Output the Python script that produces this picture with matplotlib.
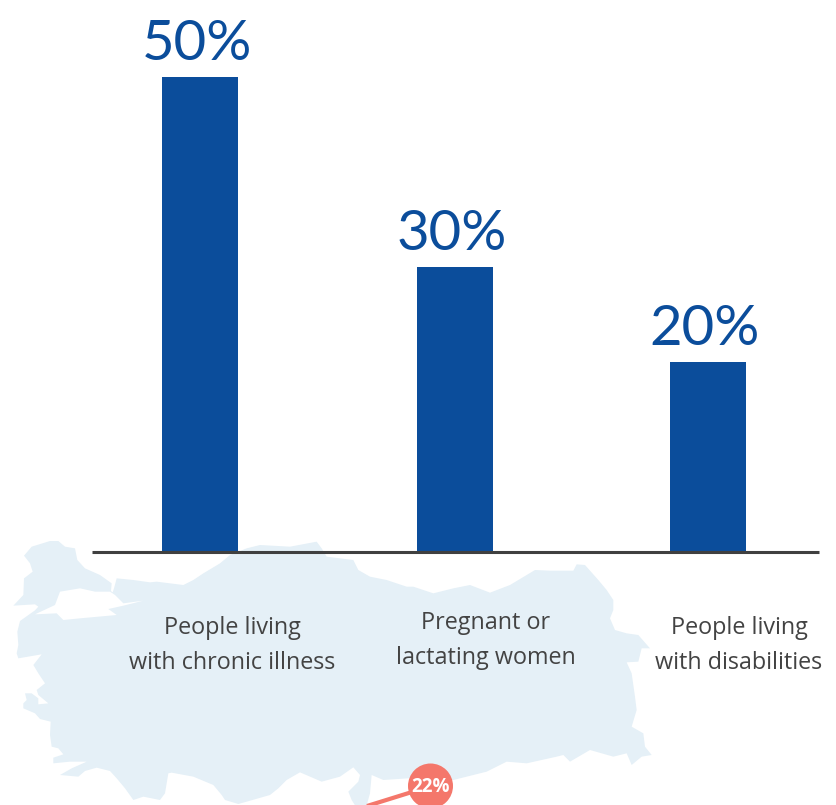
import matplotlib
matplotlib.use("Agg")
import matplotlib.pyplot as plt
from matplotlib.patches import Polygon, Circle

# ---- data ----
categories = ["People living\nwith chronic illness", "Pregnant or\nlactating women", "People living\nwith disabilities"]
values = [50, 30, 20]
value_labels = ["50%", "30%", "20%"]
bar_centres = [200, 455, 708]

# ---- decorative map outline, traced in zoomed crops of the image ----
thrace_crop = [(40,212),(70,180),(72,130),(98,110),(90,85),(72,62),(95,35),(150,18),(175,18),(195,35),(225,40),
               (232,75),(255,100),(300,120),(335,145),(333,168),(338,172),(342,160),(350,130),(400,135),(450,142)]
north_crop = [(470,155),(510,160),(550,165),(580,150),(610,130),(660,100),(690,75),(740,55),
              (780,45),(870,50),(950,35),(965,55),(980,80),(1060,90),(1075,120),(1110,140),(1160,150),(1220,170)]
east_crop = [(0,170),(40,170),(100,190),(160,175),(210,165),(270,188),(330,165),(405,120),(450,122),(520,122),
             (530,103),(555,105),(595,150),(620,180),(640,210),(640,240),(630,265),(645,300),(680,310),(715,315),
             (750,355),(725,355),(715,395),(680,397),(695,430),(705,500),(710,540),(695,590),(730,610),(735,650),
             (755,675),(725,680),(695,705),(680,670),(640,680),(570,660),(510,695),(490,675),(470,680),(380,700),
             (320,695),(260,725),(160,750),(60,745)]
south_crop = [(775,145),(700,150),(665,135),(660,190),(650,226),(615,226),(605,210),(595,185),(625,155),(630,135),
              (610,112),(570,140),(515,155),(450,127),(410,150),(385,175),(360,195),(290,215),(265,222),(225,210),
              (215,195),(190,165),(130,140),(65,128),(55,130),(45,190),(30,210)]
west_crop = [(400,455),(370,465),(345,430),(320,400),(300,378),(260,368),(225,378),(205,395),(150,390),(185,370),
             (230,350),(180,350),(130,355),(130,338),(160,328),(145,310),(125,305),(120,270),(122,230),(90,222),
             (75,205),(40,190),(40,175),(50,165),(45,145),(65,145),(85,160),(85,178),(115,175),(85,150),(80,135),
             (105,115),(85,85),(70,60),(95,28),(25,40),(20,25)]
strait_crop = [(55,330),(52,290),(60,258),(105,226),(115,215),(105,208)]
marmara_crop = [(105,238),(165,210),(180,170),(240,160),(285,170),(330,170),(345,180),(370,205),(430,197),
                (370,212),(325,222),(350,240),(240,250),(190,255),(170,235)]

def crop(points, x0, y0):
    return [(x0 + x / 3, y0 + y / 3) for x, y in points]

outline = (crop(thrace_crop, 0, 535) + crop(north_crop, 0, 530) + crop(east_crop, 400, 530)
           + crop(south_crop, 150, 730) + crop(west_crop, 10, 645) + crop(strait_crop, 0, 535))
marmara = crop(marmara_crop, 0, 535)

BLUE = "#0B4D9B"
MAP = "#E5F0F7"
RED = "#F4776B"
GREY = "#404040"
LABEL = "#434343"

fig = plt.figure(figsize=(8.36, 8.05), dpi=100)

# pixel layer for the map and labels
ax_px = fig.add_axes([0, 0, 1, 1], zorder=1)
ax_px.set_xlim(0, 836)
ax_px.set_ylim(805, 0)
ax_px.axis("off")
ax_px.add_patch(Polygon(outline, closed=True, fc=MAP, ec="none"))
ax_px.add_patch(Polygon(marmara, closed=True, fc="white", ec="none"))
ax_px.plot([367, 412], [806, 792], color=RED, lw=3, solid_capstyle="butt")
ax_px.add_patch(Circle((430.5, 786), 22.5, fc=RED, ec="none", zorder=3))
ax_px.text(431, 787, "22%", color="white", fontsize=13.5, fontweight="bold", family="Open Sans",
           ha="center", va="center", zorder=4)

label_x = [232, 486, 739]
label_y = [645.5, 640.5, 645.5]
for x, y, c in zip(label_x, label_y, categories):
    ax_px.text(x, y, c, ha="center", va="center", fontsize=16.8, color=LABEL, family="Open Sans",
               linespacing=1.58)

# value layer for bars
ax = fig.add_axes([0, 0, 1, 1], zorder=2)
ax.patch.set_alpha(0)
ax.set_xlim(0, 836)
ax.set_ylim(-253 / 9.5, 552 / 9.5)
ax.axis("off")
ax.bar(bar_centres, values, width=76, color=BLUE, zorder=2)
ax.plot([92, 819], [-0.02, -0.02], color=GREY, lw=2.2, solid_capstyle="butt", zorder=3)
for x, v, s in zip(bar_centres, values, value_labels):
    ax.text(x - 3, v + 1.75, s, ha="center", va="baseline", fontsize=40.5, color=BLUE, family="Lato")

fig.savefig("out.png", dpi=100)
